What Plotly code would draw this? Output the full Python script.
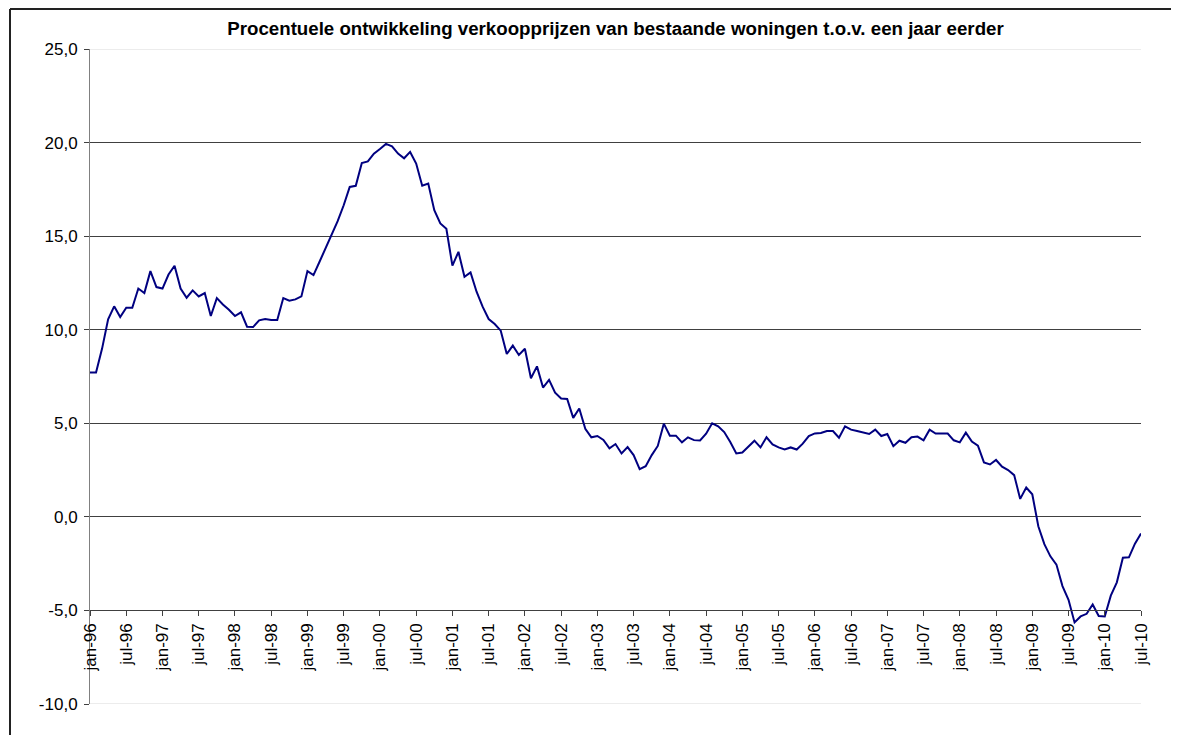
import plotly.graph_objects as go

# ---- data ----
months = ["jan", "feb", "mrt", "apr", "mei", "jun", "jul", "aug", "sep", "okt", "nov", "dec"]
years = ["96", "97", "98", "99", "00", "01", "02", "03", "04", "05", "06", "07", "08", "09", "10"]

values_1996 = [7.72, 7.72, 8.99, 10.55, 11.25, 10.68, 11.17, 11.17, 12.20, 11.96, 13.13, 12.28]
values_1997 = [12.20, 12.95, 13.42, 12.20, 11.71, 12.10, 11.78, 11.96, 10.73, 11.69, 11.35, 11.07]
values_1998 = [10.73, 10.93, 10.16, 10.14, 10.50, 10.57, 10.52, 10.52, 11.69, 11.55, 11.62, 11.78]
values_1999 = [13.13, 12.92, 13.63, 14.34, 15.05, 15.80, 16.65, 17.63, 17.69, 18.91, 18.99, 19.41]
values_2000 = [19.66, 19.93, 19.80, 19.41, 19.16, 19.50, 18.88, 17.69, 17.81, 16.39, 15.68, 15.39]
values_2001 = [13.42, 14.16, 12.83, 13.06, 12.03, 11.23, 10.57, 10.30, 9.95, 8.70, 9.15, 8.65]
values_2002 = [8.98, 7.41, 8.04, 6.91, 7.32, 6.64, 6.32, 6.30, 5.29, 5.79, 4.71, 4.25]
values_2003 = [4.32, 4.11, 3.66, 3.89, 3.39, 3.73, 3.30, 2.55, 2.71, 3.30, 3.79, 4.98]
values_2004 = [4.34, 4.34, 3.98, 4.25, 4.10, 4.08, 4.44, 5.00, 4.84, 4.53, 4.00, 3.39]
values_2005 = [3.44, 3.78, 4.07, 3.71, 4.25, 3.87, 3.71, 3.60, 3.71, 3.60, 3.91, 4.32]
values_2006 = [4.46, 4.48, 4.59, 4.59, 4.23, 4.84, 4.66, 4.59, 4.50, 4.43, 4.66, 4.32]
values_2007 = [4.43, 3.78, 4.07, 3.96, 4.25, 4.29, 4.09, 4.66, 4.45, 4.45, 4.45, 4.09]
values_2008 = [3.98, 4.50, 4.02, 3.80, 2.91, 2.80, 3.04, 2.68, 2.50, 2.23, 0.96, 1.57]
values_2009 = [1.21, -0.50, -1.46, -2.11, -2.55, -3.70, -4.43, -5.64, -5.32, -5.18, -4.68, -5.30]
values_2010 = [-5.32, -4.21, -3.50, -2.18, -2.16, -1.43, -0.89]

y_tick_values = [-10, -5, 0, 5, 10, 15, 20, 25]
y_tick_labels = ["-10,0", "-5,0", "0,0", "5,0", "10,0", "15,0", "20,0", "25,0"]

title_text = "Procentuele ontwikkeling verkoopprijzen van bestaande woningen t.o.v. een jaar eerder"

# ---- build ----
values = (values_1996 + values_1997 + values_1998 + values_1999 + values_2000 + values_2001
          + values_2002 + values_2003 + values_2004 + values_2005 + values_2006 + values_2007
          + values_2008 + values_2009 + values_2010)
categories = [f"{m}-{y}" for y in years for m in months][:len(values)]
x_tick_labels = categories[::6]

# page has an 8px body margin, so the figure is sized to fit inside the window
W, H = 1171, 727
L, R, T, B = 82, 38, 41, 31
pw, ph = W - L - R, H - T - B

fig = go.Figure(
    go.Scatter(
        x=categories,
        y=values,
        mode="lines",
        line=dict(color="#000080", width=2),
        showlegend=False,
    )
)

font_family = "Arial, Liberation Sans, sans-serif"

frame_left = (2 - L) / pw
frame_right = (1200 - L) / pw
frame_top = (H - B - 1) / ph
frame_bottom = (H - B - 760) / ph

fig.update_layout(
    width=W,
    height=H,
    margin=dict(l=L, r=R, t=T, b=B, pad=0),
    paper_bgcolor="white",
    plot_bgcolor="white",
    font=dict(family=font_family, size=17, color="black"),
    title=dict(
        text="<b>" + title_text + "</b>",
        font=dict(family=font_family, size=18.7, color="black"),
        x=0.5,
        xref="paper",
        xanchor="center",
        y=1 - 20 / H,
        yref="container",
        yanchor="middle",
    ),
    xaxis=dict(
        type="category",
        range=[0, len(values) - 1],
        tickmode="array",
        tickvals=x_tick_labels,
        ticktext=x_tick_labels,
        tickangle=-90,
        anchor="free",
        position=5 / 35,
        showline=True,
        linecolor="#404040",
        linewidth=1,
        ticks="outside",
        ticklen=5,
        tickcolor="#404040",
        showgrid=False,
        zeroline=False,
        tickfont=dict(family=font_family, size=17, color="black"),
    ),
    yaxis=dict(
        range=[-10, 25],
        tickmode="array",
        tickvals=y_tick_values,
        ticktext=y_tick_labels,
        showgrid=True,
        gridcolor="#404040",
        gridwidth=1,
        showline=True,
        linecolor="#808080",
        linewidth=1,
        ticks="outside",
        ticklen=5,
        tickcolor="#404040",
        ticklabelstandoff=3,
        zeroline=False,
        tickfont=dict(family=font_family, size=17, color="black"),
    ),
    shapes=[
        dict(type="line", xref="paper", yref="y", x0=0, x1=1, y0=25, y1=25,
             line=dict(color="#ececec", width=2), layer="below"),
        dict(type="line", xref="paper", yref="y", x0=0, x1=1, y0=-10, y1=-10,
             line=dict(color="#ececec", width=2), layer="below"),
        # chart frame: only left and top edges are visible in the window
        dict(type="line", xref="paper", yref="paper",
             x0=frame_left, x1=frame_left, y0=frame_bottom, y1=frame_top,
             line=dict(color="#222222", width=2), layer="above"),
        dict(type="line", xref="paper", yref="paper",
             x0=frame_left, x1=frame_right, y0=frame_top, y1=frame_top,
             line=dict(color="#222222", width=2), layer="above"),
    ],
)

fig.write_html("out.html")
